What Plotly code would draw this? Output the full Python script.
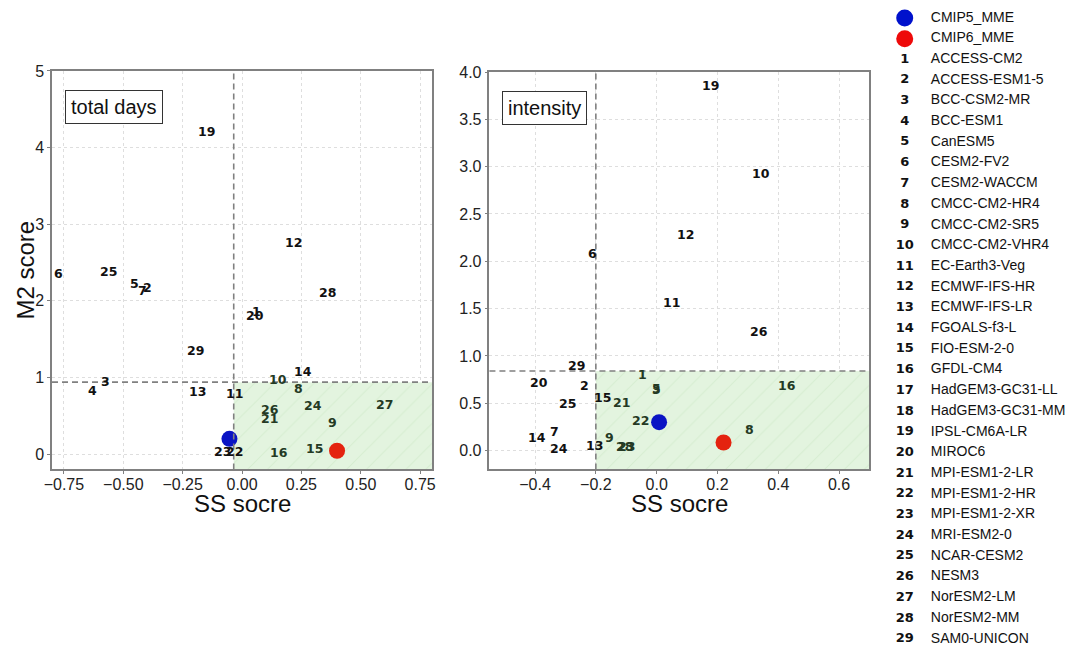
import plotly.graph_objects as go

# ---- model list ----
models = [
    "ACCESS-CM2", "ACCESS-ESM1-5", "BCC-CSM2-MR", "BCC-ESM1", "CanESM5",
    "CESM2-FV2", "CESM2-WACCM", "CMCC-CM2-HR4", "CMCC-CM2-SR5", "CMCC-CM2-VHR4",
    "EC-Earth3-Veg", "ECMWF-IFS-HR", "ECMWF-IFS-LR", "FGOALS-f3-L", "FIO-ESM-2-0",
    "GFDL-CM4", "HadGEM3-GC31-LL", "HadGEM3-GC31-MM", "IPSL-CM6A-LR", "MIROC6",
    "MPI-ESM1-2-LR", "MPI-ESM1-2-HR", "MPI-ESM1-2-XR", "MRI-ESM2-0", "NCAR-CESM2",
    "NESM3", "NorESM2-LM", "NorESM2-MM", "SAM0-UNICON",
]
mme_names = ["CMIP5_MME", "CMIP6_MME"]
mme_colors = ["#0a14c4", "#e4230f"]

N = None
# ---- total days: SS score / M2 score per model (1..29) ----
td_ss = [0.042, -0.417, -0.593, -0.649, -0.470, -0.792, -0.439, 0.220, 0.360, 0.112,
         -0.068, 0.179, -0.225, 0.220, 0.268, 0.118, N, N, -0.186, 0.017,
         0.080, -0.067, -0.120, 0.260, -0.599, 0.080, 0.562, 0.322, -0.232]
td_m2 = [1.80, 2.12, 0.89, 0.77, 2.17, 2.30, 2.08, 0.80, 0.355, 0.92,
         0.735, 2.70, 0.765, 1.02, 0.015, -0.04, N, N, 4.15, 1.745,
         0.41, -0.02, -0.03, 0.57, 2.33, 0.53, 0.59, 2.05, 1.29]
td_mme_ss = [-0.053, 0.400]
td_mme_m2 = [0.20, 0.045]
td_ref_ss, td_ref_m2 = -0.035, 0.94

# ---- intensity ----
in_ss = [-0.062, -0.252, -0.015, N, -0.015, -0.225, -0.351, 0.291, -0.170, 0.313,
         0.022, 0.068, -0.233, -0.424, -0.206, 0.398, N, N, 0.150, -0.416,
         -0.144, -0.080, -0.128, -0.351, -0.321, 0.307, N, -0.135, -0.292]
in_m2 = [0.76, 0.645, 0.595, N, 0.61, 2.04, 0.15, 0.18, 0.09, 2.88,
         1.52, 2.24, 0.01, 0.09, 0.51, 0.64, N, N, 3.81, 0.675,
         0.46, 0.27, -0.005, -0.025, 0.445, 1.215, N, 0.00, 0.85]
in_mme_ss = [0.008, 0.220]
in_mme_m2 = [0.30, 0.085]
in_ref_ss, in_ref_m2 = -0.20, 0.84

panels = [
    dict(name="total days", ss=td_ss, m2=td_m2, mss=td_mme_ss, mm2=td_mme_m2,
         rss=td_ref_ss, rm2=td_ref_m2, xr=[-0.8, 0.8], yr=[-0.2, 5.0],
         xt=[-0.75, -0.5, -0.25, 0, 0.25, 0.5, 0.75], xf=".2f",
         yt=[0, 1, 2, 3, 4, 5], yf="d", xa="x", ya="y"),
    dict(name="intensity", ss=in_ss, m2=in_m2, mss=in_mme_ss, mm2=in_mme_m2,
         rss=in_ref_ss, rm2=in_ref_m2, xr=[-0.55, 0.7], yr=[-0.2, 4.0],
         xt=[-0.4, -0.2, 0, 0.2, 0.4, 0.6], xf=".1f",
         yt=[0, 0.5, 1, 1.5, 2, 2.5, 3, 3.5, 4], yf=".1f", xa="x2", ya="y2"),
]

GRAY = "#808080"
INK = "#111111"
INK_GREEN = "#243a24"
NUMFONT = "DejaVu Sans"
SANS = "Liberation Sans"

fig = go.Figure()
shapes, annos = [], []

for p in panels:
    xa, ya = p["xa"], p["ya"]
    # shaded "good" quadrant with hatching
    fig.add_trace(go.Scatter(
        x=[p["rss"], p["xr"][1], p["xr"][1], p["rss"], p["rss"]],
        y=[p["yr"][0], p["yr"][0], p["rm2"], p["rm2"], p["yr"][0]],
        mode="none", fill="toself", fillcolor="#e3f4df",
        fillpattern=dict(shape="/", bgcolor="#e3f4df", fgcolor="#c9e6c3",
                         size=14, solidity=0.08),
        xaxis=xa, yaxis=ya, showlegend=False, hoverinfo="skip"))
    # multi-model ensemble means
    fig.add_trace(go.Scatter(
        x=p["mss"], y=p["mm2"], mode="markers",
        marker=dict(size=16, color=mme_colors, line=dict(width=0)),
        xaxis=xa, yaxis=ya, showlegend=False, hoverinfo="skip"))
    # model labels: text anchored at its left edge / baseline
    for i, (sx, my) in enumerate(zip(p["ss"], p["m2"])):
        if sx is None:
            continue
        inside = sx >= p["rss"] and my <= p["rm2"]
        annos.append(dict(
            text=str(i + 1), x=sx, y=my, xref=xa, yref=ya,
            xanchor="left", yanchor="bottom", showarrow=False,
            xshift=-1, yshift=-4, borderpad=0,
            font=dict(family=NUMFONT, size=12.5, weight="bold",
                      color=INK_GREEN if inside else INK)))
    # reference lines
    shapes.append(dict(type="line", xref=xa, yref=ya + " domain",
                       x0=p["rss"], x1=p["rss"], y0=0, y1=1,
                       line=dict(color=GRAY, width=1.6, dash="6px,4px")))
    shapes.append(dict(type="line", xref=xa + " domain", yref=ya,
                       x0=0, x1=1, y0=p["rm2"], y1=p["rm2"],
                       line=dict(color=GRAY, width=1.6, dash="6px,4px")))
    # panel tag
    annos.append(dict(text=p["name"], xref=xa + " domain", yref=ya + " domain",
                      x=0.033, y=0.952, xanchor="left", yanchor="top", showarrow=False,
                      font=dict(family=SANS, size=20, color="#111111"),
                      bordercolor="#333333", borderwidth=1, borderpad=5,
                      bgcolor="white"))
    # x axis title
    annos.append(dict(text="SS socre", xref=xa + " domain", yref="paper",
                      x=0.5, y=0.226, xanchor="center", yanchor="middle",
                      showarrow=False,
                      font=dict(family=SANS, size=24, color="#111111")))

# y axis title on the first panel
annos.append(dict(text="M2 score", xref="paper", yref="y domain",
                  x=0.0235, y=0.5, xanchor="center", yanchor="middle",
                  textangle=-90, showarrow=False,
                  font=dict(family=SANS, size=24, color="#111111")))

# ---- side key ----
rows = list(range(len(mme_names) + len(models)))
fig.add_trace(go.Scatter(
    x=[0.12, 0.12], y=rows[:2], mode="markers",
    marker=dict(size=17, color=["#0011cc", "#ee0a0a"]),
    xaxis="x3", yaxis="y3", showlegend=False, hoverinfo="skip"))
fig.add_trace(go.Scatter(
    x=[0.12] * len(models), y=rows[2:], text=[str(i + 1) for i in range(len(models))],
    mode="text", textposition="middle center",
    textfont=dict(family=NUMFONT, size=13, weight="bold", color="#111111"),
    xaxis="x3", yaxis="y3", showlegend=False, hoverinfo="skip"))
fig.add_trace(go.Scatter(
    x=[0.255] * len(rows), y=rows, text=mme_names + models,
    mode="text", textposition="middle right",
    textfont=dict(family=SANS, size=14, color="#111111"),
    xaxis="x3", yaxis="y3", showlegend=False, hoverinfo="skip"))

def axis_style(p, is_x):
    return dict(
        range=p["xr"] if is_x else p["yr"],
        tickvals=p["xt"] if is_x else p["yt"],
        tickformat=p["xf"] if is_x else p["yf"],
        showgrid=True, gridcolor="#dedede", griddash="3px,3px", gridwidth=1,
        zeroline=False, showline=True, linecolor=GRAY, linewidth=1.5, mirror=True,
        ticks="outside", ticklen=3, tickcolor=GRAY, automargin=False,
        tickfont=dict(family=SANS, size=16, color="#222222"),
    )

xa1 = axis_style(panels[0], True)
xa1.update(domain=[0.0484, 0.4019], anchor="y", ticklabelstandoff=-3)
ya1 = axis_style(panels[0], False)
ya1.update(domain=[0.2777, 0.8908], anchor="x")
xa2 = axis_style(panels[1], True)
xa2.update(domain=[0.4553, 0.8088], anchor="y2", ticklabelstandoff=-3)
ya2 = axis_style(panels[1], False)
ya2.update(domain=[0.2777, 0.8892], anchor="x2")

fig.update_layout(
    width=1075, height=650,
    margin=dict(l=0, r=0, t=0, b=0, autoexpand=False),
    paper_bgcolor="white", plot_bgcolor="white",
    xaxis=xa1, yaxis=ya1, xaxis2=xa2, yaxis2=ya2,
    xaxis3=dict(domain=[0.82, 1.0], range=[0, 1], visible=False, anchor="y3", automargin=False),
    yaxis3=dict(domain=[0.0, 1.0], range=[30.53, -0.87], visible=False, anchor="x3", automargin=False),
    shapes=shapes, annotations=annos,
)

fig.write_html("out.html")
